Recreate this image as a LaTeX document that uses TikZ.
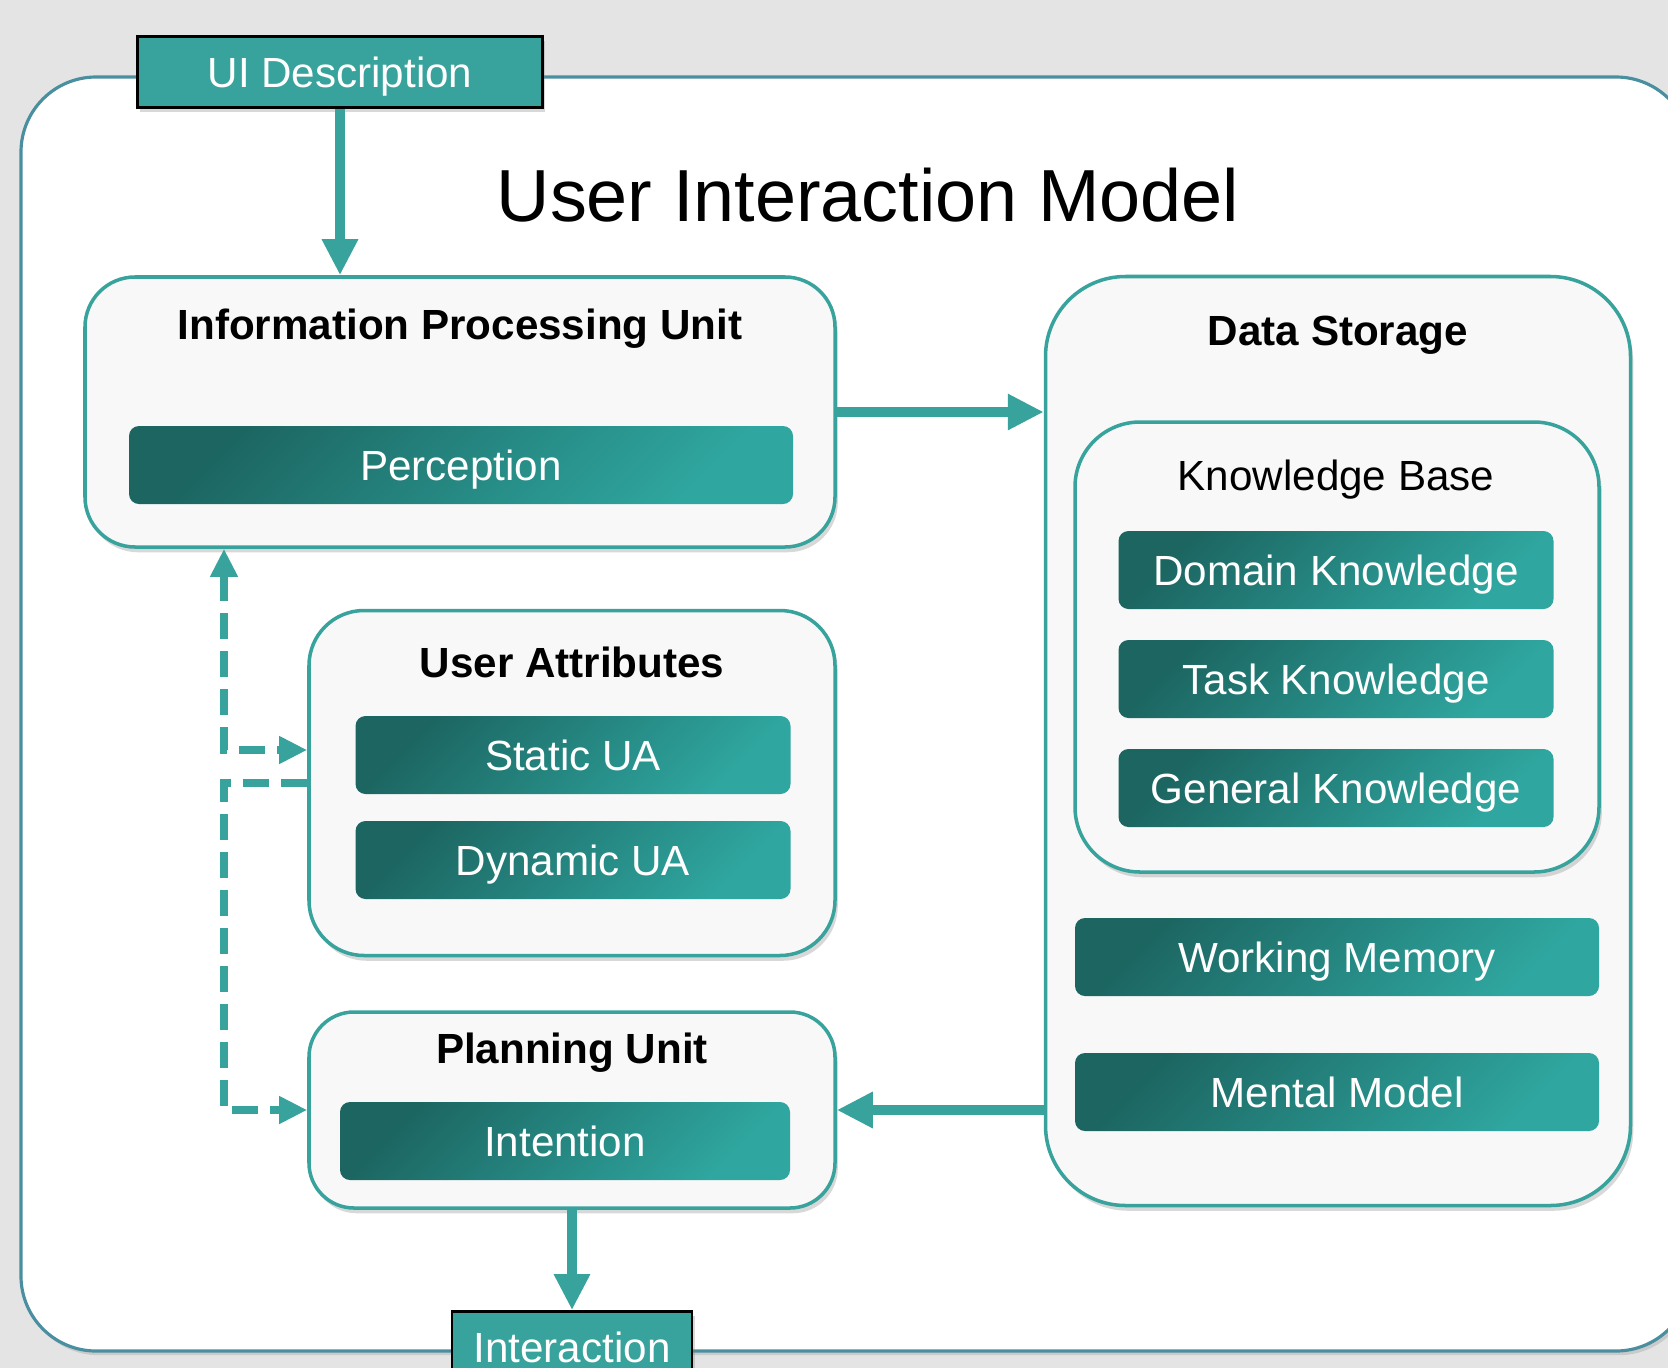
\documentclass[tikz,border=0pt]{standalone}
\usepackage{fontspec}
\setmainfont{Liberation Sans}
\usetikzlibrary{arrows.meta,shadows}
\definecolor{uimteal}{HTML}{38A29C}
\definecolor{uimdark}{HTML}{1C6561}
\definecolor{uimlight}{HTML}{2FA7A0}
\definecolor{uimedge}{HTML}{4A8FA0}
\definecolor{uimpanel}{HTML}{F8F8F8}
\definecolor{uimbg}{HTML}{E4E4E4}

\begin{document}
\begin{tikzpicture}[
  shell/.style={draw=uimedge,line width=0.9pt,fill=white,rounded corners=0.75cm,
    drop shadow={opacity=0.25,shadow xshift=0.8pt,shadow yshift=-1.2pt}},
  panel/.style={draw=uimteal,line width=1pt,fill=uimpanel,rounded corners=#1,inner sep=0pt,
    drop shadow={opacity=0.3,shadow xshift=0.8pt,shadow yshift=-1.5pt}},
  panel/.default=0.5cm,
  bar/.style={rounded corners=0.1cm,top color=uimdark,bottom color=uimlight,shading angle=45,
    text=white,inner sep=0pt,minimum height=0.78cm,text height=8.6pt,text depth=0pt,
    font=\fontsize{12}{14}\selectfont},
  io/.style={draw=black,line width=0.8pt,fill=uimteal,text=white,inner sep=0pt,
    minimum height=0.71cm,text height=8.6pt,text depth=0pt,font=\fontsize{12}{14}\selectfont,
    drop shadow={opacity=0.3,shadow xshift=0.8pt,shadow yshift=-1.2pt}},
  head/.style={anchor=base,font=\fontsize{12}{14}\selectfont\bfseries},
  flow/.style={uimteal,line width=3pt,-{Triangle[width=0.34cm,length=0.36cm]}},
  link/.style={uimteal,line width=2.4pt,dash pattern=on 0.26cm off 0.12cm},
]
  \fill[uimbg] (0,0) rectangle (16.68,-13.68);
  \useasboundingbox (0,0) rectangle (16.68,-13.68);
  \clip (0,0) rectangle (16.68,-13.68);

  \node[shell,minimum width=16.70cm,minimum height=12.74cm] (model) at (8.56,-7.14) {};
  \node[anchor=base,font=\fontsize{21}{25}\selectfont] (title) at (8.68,-2.21) {User Interaction Model};

  \node[io,minimum width=4.05cm] (uid) at (3.40,-0.72) {UI Description};

  \node[panel,minimum width=7.50cm,minimum height=2.70cm] (ipu) at (4.60,-4.12) {};
  \node[head] (ipuh) at (4.60,-3.39) {Information Processing Unit};
  \node[bar,minimum width=6.64cm] (perc) at (4.61,-4.65) {Perception};

  \node[panel=0.8cm,minimum width=5.85cm,minimum height=9.29cm] (ds) at (13.38,-7.41) {};
  \node[head] (dsh) at (13.38,-3.45) {Data Storage};
  \node[panel=0.65cm,minimum width=5.24cm,minimum height=4.50cm] (kb) at (13.37,-6.47) {};
  \node[head,font=\fontsize{12}{14}\selectfont] (kbh) at (13.36,-4.90) {Knowledge Base};
  \foreach \n/\y/\t in {dk/-5.70/Domain Knowledge,tk/-6.79/Task Knowledge,gk/-7.88/General Knowledge}
    \node[bar,minimum width=4.35cm] (\n) at (13.36,\y) {\t};
  \node[bar,minimum width=5.24cm] (wm) at (13.37,-9.57) {Working Memory};
  \node[bar,minimum width=5.24cm] (mm) at (13.37,-10.92) {Mental Model};

  \node[panel=0.55cm,minimum width=5.26cm,minimum height=3.45cm] (ua) at (5.72,-7.83) {};
  \node[head] (uah) at (5.72,-6.77) {User Attributes};
  \foreach \n/\y/\t in {sua/-7.55/Static UA,dua/-8.60/Dynamic UA}
    \node[bar,minimum width=4.35cm] (\n) at (5.73,\y) {\t};

  \node[panel=0.45cm,minimum width=5.26cm,minimum height=1.96cm] (pu) at (5.72,-11.10) {};
  \node[head] (puh) at (5.72,-10.63) {Planning Unit};
  \node[bar,minimum width=4.50cm] (int) at (5.65,-11.41) {Intention};

  \node[io,minimum width=2.40cm] (inter) at (5.72,-13.47) {Interaction};

  \draw[flow] (uid.south) -- (uid.south |- ipu.north);
  \draw[flow] (ipu.east) -- (ipu.east -| ds.west);
  \draw[flow] (ds.west |- pu.east) -- (pu.east);
  \draw[flow] (pu.south) -- (inter.north);

  \coordinate (ka) at (2.24,-7.50);
  \draw[link,{Triangle[width=0.26cm,length=0.28cm]}-{Triangle[width=0.26cm,length=0.28cm]}]
    (ipu.south -| ka) |- (ua.west |- ka);
  \draw[link,-{Triangle[width=0.26cm,length=0.28cm]}]
    (ua.west) -- (ua.west -| ka) |- (pu.west);
\end{tikzpicture}
\end{document}
